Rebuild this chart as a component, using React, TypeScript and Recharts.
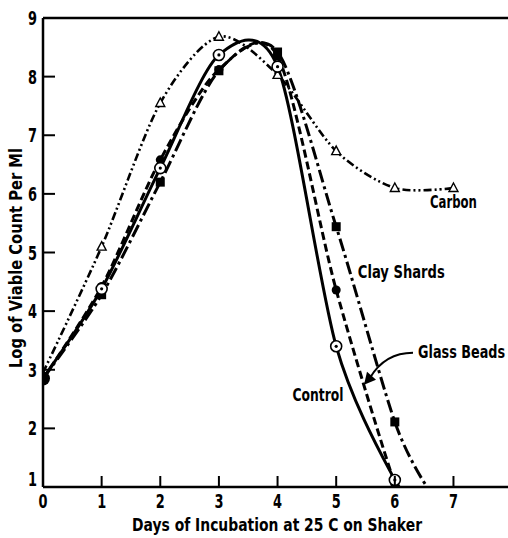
import React from "react";
import {
  LineChart, Line, XAxis, YAxis, ReferenceLine, ReferenceDot,
} from "recharts";

const days = [0, 1, 2, 3, 4, 5, 6, 7];
const control = [2.85, 4.38, 6.44, 8.37, 8.17, 3.4, 1.12];
const glassBeads = [2.85, 4.42, 6.58, 8.12, 8.35, 4.36, 1.05];
const clayShards = [2.85, 4.28, 6.2, 8.1, 8.42, 5.44, 2.11];
const carbon = [2.95, 5.1, 7.55, 8.68, 8.03, 6.73, 6.1, 6.1];
// where the drawn curves run into the x axis (no marker there)
const controlEnd = { x: 6.26, y: 1.0 };
const glassEnd = { x: 6.15, y: 1.0 };
const clayEnd = { x: 6.55, y: 1.0 };

const xTicks = [0, 1, 2, 3, 4, 5, 6, 7];
const yTicks = [1, 2, 3, 4, 5, 6, 7, 8, 9];

const FONT = "'DejaVu Sans', sans-serif";

// cardinal spline (same as d3 curveCardinal) - hand drawn curves overshoot less than "natural"
const cardinal = (tension: number) => (context: any) => {
  const k = (1 - tension) / 6;
  const s: any = { x0: NaN, x1: NaN, x2: NaN, y0: NaN, y1: NaN, y2: NaN, p: 0, line: undefined };
  const seg = (x: number, y: number) => {
    context.bezierCurveTo(
      s.x1 + k * (s.x2 - s.x0), s.y1 + k * (s.y2 - s.y0),
      s.x2 + k * (s.x1 - x), s.y2 + k * (s.y1 - y),
      s.x2, s.y2,
    );
  };
  return {
    areaStart() { s.line = 0; },
    areaEnd() { s.line = NaN; },
    lineStart() { s.x0 = s.x1 = s.x2 = s.y0 = s.y1 = s.y2 = NaN; s.p = 0; },
    lineEnd() {
      if (s.p === 2) context.lineTo(s.x2, s.y2);
      else if (s.p === 3) seg(s.x1, s.y1);
      if (s.line || (s.line !== 0 && s.p === 1)) context.closePath();
      s.line = 1 - s.line;
    },
    point(x: number, y: number) {
      x = +x; y = +y;
      if (s.p === 0) { s.p = 1; s.line ? context.lineTo(x, y) : context.moveTo(x, y); }
      else if (s.p === 1) { s.p = 2; s.x1 = x; s.y1 = y; }
      else { s.p = 3; seg(x, y); }
      s.x0 = s.x1; s.x1 = s.x2; s.x2 = x;
      s.y0 = s.y1; s.y1 = s.y2; s.y2 = y;
    },
  };
};
const smooth = cardinal(0.15);

const toPoints = (vals: number[], end?: { x: number; y: number }) => {
  const pts = vals.map((v, i) => ({ x: days[i], y: v, mark: true }));
  if (end) pts.push({ ...end, mark: false });
  return pts;
};

const XTick = (props: any) => {
  const { x, y, payload } = props;
  return (
    <g>
      {payload.value !== 0 && (
        <line x1={x} y1={y} x2={x} y2={y - 11} stroke="#000" strokeWidth={2} />
      )}
      <text x={x} y={y + 21} textAnchor="middle" fontFamily={FONT} fontWeight="bold" fontSize={20}
        textLength={9} lengthAdjust="spacingAndGlyphs" fill="#000">
        {payload.value}
      </text>
    </g>
  );
};

const YTick = (props: any) => {
  const { x, y, payload } = props;
  const v = payload.value;
  return (
    <g>
      {v !== 1 && v !== 9 && (
        <line x1={x} y1={y} x2={x + 12} y2={y} stroke="#000" strokeWidth={2} />
      )}
      <text x={x - 6} y={v === 1 ? y - 1 : y + 7} textAnchor="end" fontFamily={FONT} fontWeight="bold" fontSize={20}
        textLength={9} lengthAdjust="spacingAndGlyphs" fill="#000">
        {v}
      </text>
    </g>
  );
};

const dotFor = (kind: string) => (props: any) => {
  const { cx, cy, payload, index } = props;
  const key = `${kind}-${index}`;
  if (!payload.mark || cx == null) return <g key={key} />;
  if (index === 0) {
    if (kind === "control") return <circle key={key} cx={cx} cy={cy} r={7} fill="#000" />;
    return <g key={key} />;
  }
  if (kind === "control")
    return (
      <g key={key}>
        <circle cx={cx} cy={cy} r={5.5} fill="#fff" stroke="#000" strokeWidth={1.6} />
        <circle cx={cx} cy={cy} r={1.6} fill="#000" />
      </g>
    );
  if (kind === "glass") return <circle key={key} cx={cx} cy={cy} r={4.5} fill="#000" />;
  if (kind === "clay") return <rect key={key} x={cx - 4.5} y={cy - 4.5} width={9} height={9} fill="#000" />;
  return (
    <path key={key} d={`M${cx},${cy - 5} L${cx + 4.5},${cy + 3.5} L${cx - 4.5},${cy + 3.5} Z`} fill="#fff" stroke="#000" strokeWidth={1.4} />
  );
};

const label = (text: string, w: number, anchor: string = "middle") => (p: any) => (
  <text x={p.cx} y={p.cy} textAnchor={anchor} fontFamily={FONT} fontWeight="bold" fontSize={18}
    textLength={w} lengthAdjust="spacingAndGlyphs" fill="#000">
    {text}
  </text>
);

const arrow = (p: any) => {
  const { cx, cy } = p; // start, next to the "Glass Beads" label
  const tx = cx - 49, ty = cy + 32;
  return (
    <g>
      <path d={`M${cx},${cy} Q${cx - 28},${cy} ${tx + 6},${ty - 7}`} fill="none" stroke="#000" strokeWidth={2} />
      <path d={`M${tx},${ty} L${tx + 3},${ty - 13} L${tx + 12},${ty - 5} Z`} fill="#000" />
    </g>
  );
};

export default function App() {
  return (
    <div style={{ position: "absolute", left: 0, top: 0, width: 508, height: 538, background: "#fff" }}>
      <LineChart width={508} height={538} margin={{ top: 18, right: 0, left: 0, bottom: 0 }}>
        <XAxis
          dataKey="x" type="number" domain={[0, 7.93]} ticks={xTicks} allowDataOverflow
          height={51} tickSize={0} tickMargin={0} tickLine={false}
          axisLine={{ stroke: "#000", strokeWidth: 2.5 }} tick={<XTick />}
        />
        <YAxis
          type="number" domain={[1, 9]} ticks={yTicks} allowDataOverflow
          width={43} tickSize={0} tickMargin={0} tickLine={false}
          axisLine={{ stroke: "#000", strokeWidth: 2.5 }} tick={<YTick />}
        />
        <ReferenceLine y={9} stroke="#000" strokeWidth={2.5} />
        <Line data={toPoints(carbon)} dataKey="y" type={smooth as any} stroke="#000" strokeWidth={2.6}
          strokeDasharray="8 3 2 3 2 3" dot={dotFor("carbon")} activeDot={false} isAnimationActive={false} />
        <Line data={toPoints(clayShards, clayEnd)} dataKey="y" type={smooth as any} stroke="#000" strokeWidth={3}
          strokeDasharray="13 4 3 4" dot={dotFor("clay")} activeDot={false} isAnimationActive={false} />
        <Line data={toPoints(glassBeads, glassEnd)} dataKey="y" type={smooth as any} stroke="#000" strokeWidth={3}
          strokeDasharray="8 4" dot={dotFor("glass")} activeDot={false} isAnimationActive={false} />
        <Line data={toPoints(control, controlEnd)} dataKey="y" type={smooth as any} stroke="#000" strokeWidth={3}
          dot={dotFor("control")} activeDot={false} isAnimationActive={false} />
        <ReferenceDot x={7.0} y={5.76} r={0} shape={label("Carbon", 47)} />
        <ReferenceDot x={6.11} y={4.57} r={0} shape={label("Clay Shards", 87)} />
        <ReferenceDot x={7.88} y={3.2} r={0} shape={label("Glass Beads", 87, "end")} />
        <ReferenceDot x={4.69} y={2.47} r={0} shape={label("Control", 51)} />
        <ReferenceDot x={6.31} y={3.29} r={0} shape={arrow} />
      </LineChart>
      <svg width={508} height={538} style={{ position: "absolute", left: 0, top: 0, pointerEvents: "none" }}>
        <text x={277} y={531} textAnchor="middle" fontFamily={FONT} fontWeight="bold" fontSize={18}
          textLength={290} lengthAdjust="spacingAndGlyphs">
          Days of Incubation at 25 C on Shaker
        </text>
        <text transform="translate(22,258) rotate(-90)" textAnchor="middle" fontFamily={FONT} fontWeight="bold" fontSize={18}
          textLength={220} lengthAdjust="spacingAndGlyphs">
          Log of Viable Count Per Ml
        </text>
      </svg>
    </div>
  );
}
